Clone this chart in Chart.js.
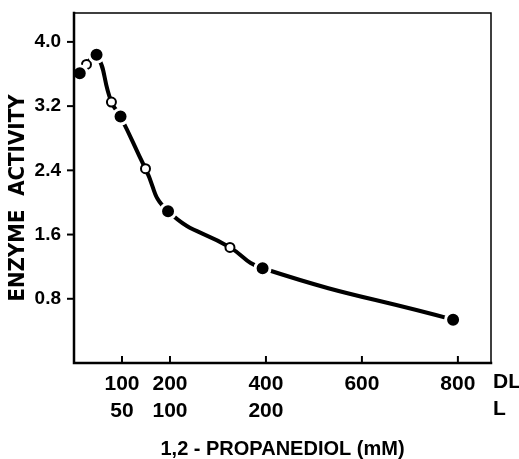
<!DOCTYPE html>
<html>
<head>
<meta charset="utf-8">
<script src="https://cdn.jsdelivr.net/npm/chart.js@4"></script>
<style>
  html, body { margin: 0; padding: 0; background: #fff; }
</style>
</head>
<body>
<canvas id="chart" width="519" height="459"></canvas>
<script>
// values (x in the DL concentration units of the top tick row)
const filledConc = [12, 47, 97, 196, 393, 790];
const filledAct = [3.61, 3.84, 3.07, 1.89, 1.18, 0.54];
const openConc = [26, 78, 149, 325];
const openAct = [3.72, 3.25, 2.42, 1.44];

const xTicks = [100, 200, 400, 600, 800];
const xTickLabels = [['100', '50'], ['200', '100'], ['400', '200'], ['600', ''], ['800', '']];
const yTicks = [0.8, 1.6, 2.4, 3.2, 4.0];
const yTickLabels = ['0.8', '1.6', '2.4', '3.2', '4.0'];
const unitLabels = ['DL', 'L'];

const FONT = '"Liberation Sans", Arial, sans-serif';
const X_TICK_SIZE = 21, X_LINE_H = 27 / 21, X_PAD = 6;

const toPoints = (xs, ys) => xs.map((x, i) => ({ x: x, y: ys[i] }));
const curve = toPoints(filledConc.concat(openConc), filledAct.concat(openAct))
  .sort((a, b) => a.x - b.x);

const noPad = s => { s.paddingTop = 0; s.paddingBottom = 0; s.paddingLeft = 0; s.paddingRight = 0; };

// box, inward x ticks, outward y ticks, DL / L row names and the y title
const extras = {
  id: 'extras',
  afterDraw(chart) {
    const ctx = chart.ctx;
    const a = chart.chartArea;
    const xs = chart.scales.x, ys = chart.scales.y;
    ctx.save();
    ctx.strokeStyle = '#000';
    ctx.lineCap = 'square';

    ctx.lineWidth = 1.5;
    ctx.beginPath();
    ctx.moveTo(a.left, a.top);
    ctx.lineTo(a.right, a.top);
    ctx.lineTo(a.right, a.bottom);
    ctx.stroke();

    ctx.lineWidth = 2.5;
    ctx.beginPath();
    ctx.moveTo(a.left, a.top);
    ctx.lineTo(a.left, a.bottom);
    ctx.lineTo(a.right, a.bottom);
    ctx.stroke();

    ctx.lineWidth = 2;
    ctx.lineCap = 'butt';
    xTicks.forEach(v => {
      const px = xs.getPixelForValue(v);
      ctx.beginPath();
      ctx.moveTo(px, a.bottom);
      ctx.lineTo(px, a.bottom - 7);
      ctx.stroke();
    });
    yTicks.forEach(v => {
      const py = ys.getPixelForValue(v);
      ctx.beginPath();
      ctx.moveTo(a.left - 7, py);
      ctx.lineTo(a.left, py);
      ctx.stroke();
    });

    ctx.fillStyle = '#000';
    ctx.font = 'bold ' + X_TICK_SIZE + 'px ' + FONT;
    ctx.textAlign = 'left';
    ctx.textBaseline = 'middle';
    const lh = X_TICK_SIZE * X_LINE_H;
    unitLabels.forEach((t, i) => {
      ctx.fillText(t, a.right + 2, a.bottom + X_PAD + lh * (i + 0.5));
    });

    ctx.translate(18, 198);
    ctx.rotate(-Math.PI / 2);
    ctx.textAlign = 'center';
    ctx.font = 'bold 22px "Liberation Sans Narrow", "DejaVu Sans Condensed", sans-serif';
    ctx.fillText('ENZYME  ACTIVITY', 0, 0);
    ctx.restore();
  }
};

new Chart(document.getElementById('chart'), {
  type: 'scatter',
  data: {
    datasets: [
      {
        data: toPoints(filledConc, filledAct),
        pointRadius: 7.5,
        pointBackgroundColor: '#000',
        pointBorderColor: '#fff',
        pointBorderWidth: 3,
        order: 1
      },
      {
        data: toPoints(openConc, openAct),
        pointRadius: 4.5,
        pointBackgroundColor: '#fff',
        pointBorderColor: '#000',
        pointBorderWidth: 2,
        order: 2
      },
      {
        type: 'line',
        data: curve,
        showLine: true,
        borderColor: '#000',
        borderWidth: 4,
        pointRadius: 0,
        tension: 0.5,
        order: 3
      }
    ]
  },
  options: {
    responsive: false,
    animation: false,
    events: [],
    layout: { padding: { left: 0, top: 13, right: 28, bottom: 0 } },
    plugins: { legend: { display: false }, tooltip: { enabled: false } },
    scales: {
      x: {
        type: 'linear',
        min: 0,
        max: 869,
        grid: { display: false },
        border: { display: false },
        afterBuildTicks: s => { s.ticks = xTicks.map(v => ({ value: v })); },
        afterFit: s => { noPad(s); s.height = 96; },
        ticks: {
          autoSkip: false,
          maxRotation: 0,
          padding: 0,
          color: '#000',
          font: { family: FONT, size: X_TICK_SIZE, weight: 'bold', lineHeight: X_LINE_H },
          callback: (v, i) => xTickLabels[i]
        },
        title: {
          display: true,
          text: '1,2 - PROPANEDIOL (mM)',
          color: '#000',
          font: { family: FONT, size: 20, weight: 'bold', lineHeight: 1 },
          padding: 0
        }
      },
      y: {
        min: 0,
        max: 4.36,
        grid: { display: false },
        border: { display: false },
        afterBuildTicks: s => { s.ticks = yTicks.map(v => ({ value: v })); },
        afterFit: s => { noPad(s); s.width = 74; },
        ticks: {
          padding: 5,
          color: '#000',
          font: { family: FONT, size: 19, weight: 'bold' },
          callback: (v, i) => yTickLabels[i]
        }
      }
    }
  },
  plugins: [extras]
});
</script>
</body>
</html>
